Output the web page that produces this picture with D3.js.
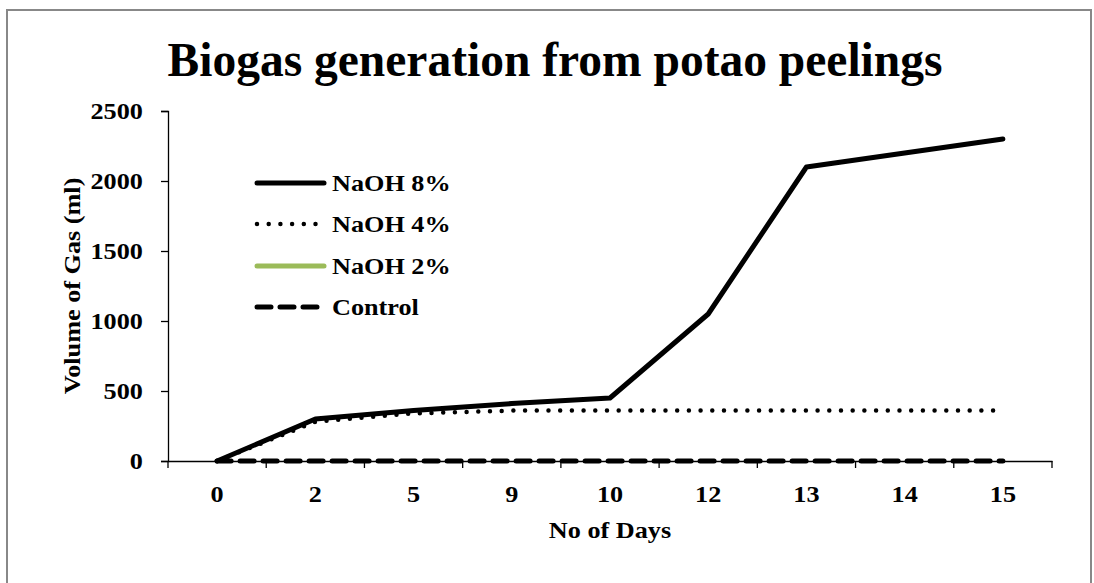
<!DOCTYPE html>
<html>
<head>
<meta charset="utf-8">
<script src="https://cdn.jsdelivr.net/npm/d3@7"></script>
<style>
  body { margin: 0; background: #fff; }
  text { font-family: "Liberation Serif", "Times New Roman", serif; font-weight: bold; fill: #000; }
</style>
</head>
<body>
<script>
var days = ['0', '2', '5', '9', '10', '12', '13', '14', '15'];
var naoh8 = [0, 300, 360, 410, 450, 1050, 2100, 2200, 2300];
var naoh4 = [0, 280, 340, 360, 360, 360, 360, 360, 360];
var naoh2 = [null, null, null, null, null, null, null, null, null];
var control = [0, 0, 0, 0, 0, 0, 0, 0, 0];
var yTicks = [0, 500, 1000, 1500, 2000, 2500];

var width = 1094, height = 583;
var plotLeft = 168, plotRight = 1052, plotTop = 111, plotBottom = 461;
var stretch = 1.14; // text in the reference is a bit wide

var svg = d3.select('body')
  .append('svg')
  .attr('width', width)
  .attr('height', height);

svg.append('rect')
  .attr('x', 7).attr('y', 10)
  .attr('width', 1084).attr('height', 600)
  .attr('fill', '#fff')
  .attr('stroke', '#888')
  .attr('stroke-width', 2);

var x = d3.scaleBand().domain(days).range([plotLeft, plotRight]);
var y = d3.scaleLinear().domain([0, 2500]).range([plotBottom, plotTop]);

function label(px, py, txt, size, anchor, angle) {
  return svg.append('text')
    .attr('transform', 'translate(' + px + ',' + py + ') rotate(' + (angle || 0) + ') scale(' + stretch + ',1)')
    .attr('text-anchor', anchor)
    .style('font-size', size + 'px')
    .text(txt);
}

svg.append('text')
  .attr('x', 555).attr('y', 76)
  .attr('text-anchor', 'middle')
  .style('font-size', '47.5px')
  .text('Biogas generation from potao peelings');

// y axis
var yAxis = svg.append('g')
  .attr('transform', 'translate(' + plotLeft + ',0)')
  .call(d3.axisLeft(y).tickValues(yTicks).tickFormat(d3.format('d')).tickSize(7).tickPadding(15));
yAxis.selectAll('text')
  .style('font-size', '23px')
  .attr('transform', 'scale(' + stretch + ',1)');

// x axis, ticks sit on the band edges
var xAxis = svg.append('g')
  .attr('transform', 'translate(0,' + plotBottom + ')')
  .call(d3.axisBottom(x).tickSize(0).tickPadding(25));
xAxis.selectAll('text')
  .style('font-size', '23px')
  .attr('transform', 'scale(' + stretch + ',1)');
svg.selectAll('.band-tick')
  .data(d3.range(days.length + 1))
  .enter()
  .append('line')
  .attr('x1', function (d) { return plotLeft + d * x.step(); })
  .attr('x2', function (d) { return plotLeft + d * x.step(); })
  .attr('y1', plotBottom).attr('y2', plotBottom + 7)
  .attr('stroke', '#000')
  .attr('stroke-width', 1.3);

svg.selectAll('.domain').attr('stroke', '#000').attr('stroke-width', 1.3);
svg.selectAll('.tick line').attr('stroke', '#000').attr('stroke-width', 1.3);

label(610, 538, 'No of Days', 23, 'middle');
label(80, 286, 'Volume of Gas (ml)', 23, 'middle', -90);

var line = d3.line()
  .defined(function (d) { return d != null; })
  .x(function (d, i) { return x(days[i]) + x.bandwidth() / 2; })
  .y(function (d) { return y(d); });

var series = [
  { name: 'NaOH 8%', values: naoh8, color: '#000', dash: null, w: 5 },
  { name: 'NaOH 4%', values: naoh4, color: '#000', dash: '0,11.7', w: 4.5 },
  { name: 'NaOH 2%', values: naoh2, color: '#9bbb59', dash: null, w: 5 },
  { name: 'Control', values: control, color: '#000', dash: '14,9', w: 5 }
];

svg.selectAll('.series')
  .data(series.slice().reverse())
  .enter()
  .append('path')
  .attr('d', function (d) { return line(d.values); })
  .attr('fill', 'none')
  .attr('stroke', function (d) { return d.color; })
  .attr('stroke-width', function (d) { return d.w; })
  .attr('stroke-dasharray', function (d) { return d.dash; })
  .attr('stroke-linecap', 'round')
  .attr('stroke-linejoin', 'round');

// legend
var legendY = [183, 224, 266, 307];
var legend = svg.selectAll('.legend')
  .data(series)
  .enter()
  .append('g')
  .attr('transform', function (d, i) { return 'translate(0,' + legendY[i] + ')'; });
legend.append('line')
  .attr('x1', 257).attr('x2', 324)
  .attr('stroke', function (d) { return d.color; })
  .attr('stroke-width', function (d) { return d.w; })
  .attr('stroke-dasharray', function (d) { return d.dash; })
  .attr('stroke-linecap', 'round');
legend.append('text')
  .attr('transform', 'translate(332,8) scale(' + stretch + ',1)')
  .style('font-size', '23px')
  .text(function (d) { return d.name; });
</script>
</body>
</html>
